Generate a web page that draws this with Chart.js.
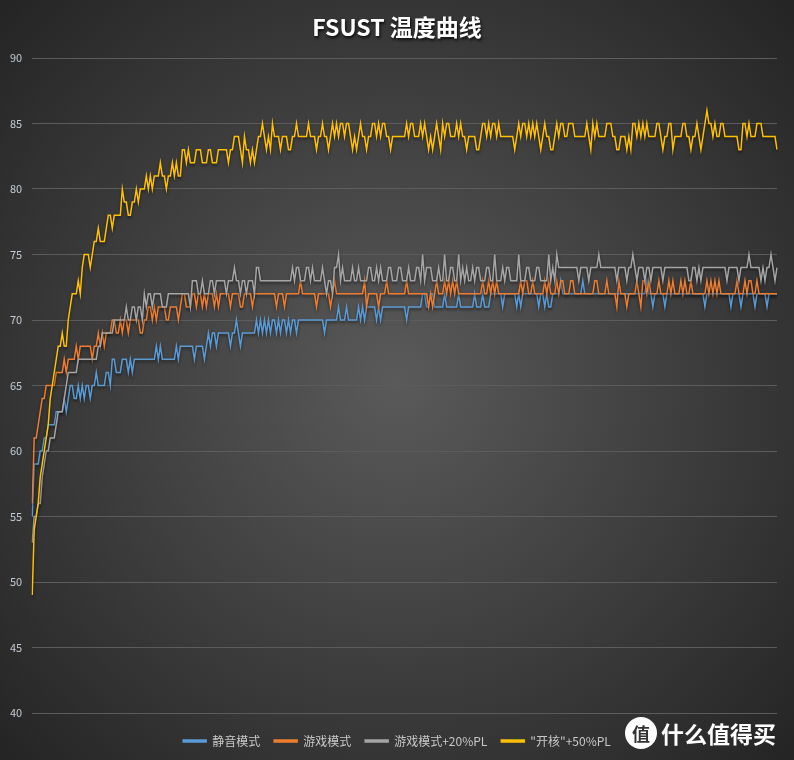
<!DOCTYPE html>
<html>
<head>
<meta charset="utf-8">
<script src="https://cdn.jsdelivr.net/npm/chart.js@4.4.1/dist/chart.umd.min.js"></script>
<style>
  html, body { margin: 0; padding: 0; background: #2a2a2a; }
  canvas { display: block; }
</style>
</head>
<body>
<canvas id="tempChart" width="794" height="760"></canvas>
<script>
// temperatures, one sample every ~2px
const quietTemps = [
  55,59,59,59,60,60,61,61,62,62, 62,62,63,63,63,63,64,63,64,65,
  65,64,64,65,64,65,64,65,65,64, 65,65,66,65,65,65,65,66,66,65,
  67,67,66,66,66,67,67,67,66,67, 66,67,67,67,67,67,67,67,67,67,
  67,67,68,67,68,67,67,67,67,67, 67,67,68,67,68,68,68,68,68,68,
  68,67,68,68,68,68,67,68,69,68, 69,69,68,69,69,69,69,69,69,68,
  69,69,70,69,68,69,69,69,69,69, 69,69,70,69,70,69,70,69,70,69,
  70,70,69,70,69,70,70,69,70,69, 70,70,69,70,70,70,70,70,70,70,
  70,70,70,70,70,70,69,70,70,70, 70,70,70,71,70,70,70,71,70,70,
  70,70,70,71,70,71,70,71,71,71, 71,71,70,71,70,71,71,71,71,71,
  71,71,71,71,71,71,71,70,71,71, 71,71,71,71,71,72,72,71,71,72,
  72,71,71,71,71,71,72,71,71,71, 71,71,71,72,71,71,71,71,71,71,
  71,72,71,71,71,72,71,71,71,72, 72,72,72,72,72,71,72,72,72,72,
  72,72,71,72,71,72,72,72,72,72, 72,72,72,71,72,72,71,72,71,71,
  72,72,72,72,73,72,72,72,72,72, 72,72,72,72,72,73,72,72,72,72,
  72,72,72,72,72,72,72,72,72,72, 72,72,72,72,72,72,72,72,72,72,
  72,72,72,72,72,72,72,73,72,72, 71,72,72,72,72,72,71,72,72,72,
  72,72,72,72,72,72,72,72,72,72, 72,72,72,72,72,72,71,72,72,72,
  72,72,72,72,72,72,72,72,72,71, 72,72,72,72,71,72,72,72,72,72,
  72,71,72,72,72,72,72,71,72,72, 72,72,72
];
const gameTemps = [
  56,61,61,62,63,64,64,65,65,65, 65,65,66,66,66,66,67,66,67,67,
  67,67,68,67,68,68,68,68,68,68, 67,68,68,69,68,69,68,69,69,69,
  70,70,69,69,70,69,70,70,69,70, 70,70,70,70,69,69,70,70,71,71,
  70,71,70,71,71,71,71,70,70,71, 71,71,71,70,71,72,72,71,71,71,
  72,72,71,72,72,71,72,71,72,72, 72,71,72,71,72,72,72,72,72,71,
  72,72,72,72,71,71,72,72,72,72, 71,72,72,72,72,72,72,72,72,72,
  72,72,71,72,72,72,71,72,72,72, 72,72,72,72,73,72,72,72,72,72,
  72,72,71,72,72,72,72,72,72,71, 72,73,72,72,72,72,72,72,72,72,
  72,72,72,72,72,72,73,71,72,72, 72,72,72,71,72,72,72,73,72,72,
  72,72,72,72,72,72,72,73,72,72, 72,72,72,72,72,72,72,72,71,72,
  71,72,73,72,72,72,73,72,73,72, 73,72,73,72,72,72,72,72,72,72,
  72,72,72,72,72,73,72,72,73,72, 73,72,73,72,72,72,72,72,72,72,
  72,72,72,72,73,72,73,73,72,72, 73,72,72,72,72,72,73,72,73,72,
  72,72,73,72,73,73,72,72,72,73, 73,72,72,72,72,72,72,72,72,72,
  72,73,73,72,72,72,72,73,72,72, 72,72,71,73,72,72,72,71,72,72,
  72,72,73,72,71,73,73,72,73,72, 72,72,72,73,72,72,72,72,73,72,
  73,72,72,72,73,72,73,72,72,73, 72,72,72,72,72,72,72,73,72,73,
  72,73,72,73,72,72,72,72,72,72, 72,72,73,72,72,72,73,72,73,73,
  72,72,73,72,72,72,72,72,72,72, 72,72,72
];
const game20Temps = [
  53,55,55,56,56,58,59,60,60,61, 61,61,62,63,63,63,64,65,66,66,
  66,66,66,67,67,67,67,67,67,67, 67,67,67,68,68,69,69,69,69,69,
  69,70,70,70,70,70,70,71,70,70, 71,71,70,71,71,70,72,71,72,72,
  71,72,72,72,72,71,71,71,72,72, 72,72,72,72,72,72,72,72,72,71,
  73,73,73,72,72,73,72,72,72,73, 73,72,73,73,73,73,73,72,73,73,
  73,74,73,73,72,73,73,72,73,73, 73,72,74,74,73,73,73,73,73,73,
  73,73,73,73,73,73,73,73,73,73, 74,73,74,74,73,73,73,74,74,73,
  74,73,73,73,73,74,73,72,73,73, 72,74,74,75,73,74,73,73,73,73,
  74,73,73,74,73,73,73,73,74,74, 73,73,74,73,74,73,73,73,74,74,
  73,73,73,74,74,73,73,73,74,73, 73,73,74,74,73,75,73,74,74,74,
  73,73,73,74,73,73,75,73,73,74, 74,73,73,75,73,74,73,74,73,73,
  74,73,74,74,73,73,73,74,74,73, 73,75,73,73,73,74,73,74,74,73,
  73,73,73,75,73,73,73,74,74,73, 73,73,74,74,73,73,73,73,75,73,
  74,73,75,74,74,74,74,74,74,74, 74,74,74,73,74,74,74,74,73,74,
  74,74,74,75,74,74,74,74,74,74, 74,74,73,74,74,74,74,73,74,74,
  75,74,73,74,74,74,73,74,74,73, 74,74,74,74,74,73,74,74,74,74,
  74,74,74,74,74,74,74,74,73,73, 74,74,73,74,73,74,74,74,74,74,
  74,74,74,74,74,74,74,73,74,74, 74,74,74,73,74,74,74,74,75,74,
  74,74,74,74,73,74,73,74,74,75, 74,73,74
];
const open50Temps = [
  49,54,55,56,58,59,60,61,62,64, 65,66,67,68,68,69,68,68,70,71,
  72,72,72,73,72,74,75,75,75,74, 75,76,76,77,76,76,76,77,78,78,
  77,78,78,78,78,80,79,79,78,78, 79,79,80,79,80,80,80,81,80,81,
  80,81,81,81,82,81,81,80,81,81, 82,81,82,81,81,83,83,82,83,82,
  82,82,83,83,83,82,82,82,83,83, 82,82,82,83,83,83,83,83,82,83,
  83,84,84,84,83,82,84,83,83,82, 83,82,83,84,84,85,84,83,84,83,
  85,84,84,84,83,84,84,84,83,83, 84,84,85,84,84,84,84,84,85,84,
  84,84,83,84,84,85,84,84,83,84, 85,84,85,84,85,85,84,85,85,84,
  83,84,83,84,85,84,84,83,84,84, 85,85,84,85,84,85,85,84,84,83,
  84,84,84,84,84,84,84,85,84,85, 85,84,84,84,85,84,85,84,83,84,
  83,84,85,84,83,85,84,85,85,84, 84,84,85,84,85,84,84,83,84,84,
  84,84,83,83,84,85,85,84,85,84, 85,85,84,85,84,84,84,84,84,84,
  84,83,84,85,84,85,85,84,85,84, 85,84,85,84,83,84,85,84,84,83,
  83,84,85,84,85,85,84,84,85,85, 85,84,84,84,84,84,84,85,84,83,
  85,84,85,84,84,84,84,85,85,85, 84,84,83,83,84,84,84,83,84,83,
  85,85,84,85,84,85,84,85,84,84, 84,84,85,85,84,83,84,84,85,85,
  83,84,84,84,84,85,85,84,84,83, 84,84,85,84,83,84,85,86,85,85,
  84,85,84,84,85,85,84,84,84,84, 84,84,84,83,83,85,85,84,85,84,
  84,84,85,85,85,84,84,84,84,84, 84,84,83
];
const seriesNames = ['静音模式', '游戏模式', '游戏模式+20%PL', '"开核"+50%PL'];
const seriesColors = ['#5b9bd5', '#ed7d31', '#a5a5a5', '#ffc000'];
const yTicks = [40, 45, 50, 55, 60, 65, 70, 75, 80, 85, 90];
const sampleLabels = open50Temps.map((_, i) => i + 1);
const chartTitle = 'FSUST 温度曲线';

const fontFamily = "'Noto Sans CJK SC', 'Open Sans', sans-serif";

const bgPlugin = {
  id: 'bg',
  beforeDraw(chart) {
    const c = chart.ctx;
    const w = chart.width, h = chart.height;
    c.save();
    const g = c.createRadialGradient(w * 0.5, h * 0.5, 0, w * 0.5, h * 0.5, 560);
    g.addColorStop(0, '#5a5a5a');
    g.addColorStop(1, '#232323');
    c.fillStyle = g;
    c.fillRect(0, 0, w, h);
    c.restore();
  },
  beforeDatasetsDraw(chart) {
    const c = chart.ctx;
    c.save();
    c.shadowColor = 'rgba(0,0,0,0.55)';
    c.shadowBlur = 3;
    c.shadowOffsetY = 2;
  },
  afterDatasetsDraw(chart) {
    chart.ctx.restore();
  },
  afterDraw(chart) {
    const c = chart.ctx;
    c.save();
    // title with a soft drop shadow
    c.shadowColor = 'rgba(0,0,0,0.8)';
    c.shadowBlur = 3;
    c.shadowOffsetX = 1;
    c.shadowOffsetY = 2;
    c.fillStyle = '#ffffff';
    c.font = 'bold 23px ' + fontFamily;
    c.textAlign = 'center';
    c.textBaseline = 'middle';
    c.fillText(chartTitle, chart.width / 2, 27);
    c.restore();

    // site watermark, bottom right
    c.save();
    c.fillStyle = '#ffffff';
    c.beginPath();
    c.arc(641, 733, 16, 0, Math.PI * 2);
    c.fill();
    c.fillStyle = '#333333';
    c.font = 'bold 18px ' + fontFamily;
    c.textAlign = 'center';
    c.textBaseline = 'middle';
    c.fillText('值', 641, 734);
    c.fillStyle = '#ffffff';
    c.font = 'bold 23px ' + fontFamily;
    c.textAlign = 'left';
    c.fillText('什么值得买', 661, 734);
    c.restore();
  }
};

const makeSet = (idx, data) => ({
  label: seriesNames[idx],
  data: data,
  borderColor: seriesColors[idx],
  backgroundColor: seriesColors[idx],
  borderWidth: 1.5,
  pointRadius: 0,
  tension: 0
});

new Chart(document.getElementById('tempChart').getContext('2d'), {
  type: 'line',
  data: {
    labels: sampleLabels,
    // last series first so it is drawn on top; legend is reversed back
    datasets: [
      makeSet(3, open50Temps),
      makeSet(2, game20Temps),
      makeSet(1, gameTemps),
      makeSet(0, quietTemps)
    ]
  },
  options: {
    responsive: false,
    animation: false,
    layout: { padding: { left: 0, right: 0, top: 58, bottom: 3 } },
    plugins: {
      title: { display: false },
      legend: {
        position: 'bottom',
        reverse: true,
        maxHeight: 36,
        labels: {
          color: '#c8c8c8',
          font: { size: 12, family: fontFamily },
          boxWidth: 23,
          boxHeight: 2,
          padding: 14
        }
      },
      tooltip: { enabled: false }
    },
    scales: {
      x: {
        display: true,
        grid: { display: false },
        border: { display: false },
        ticks: { display: false },
        afterFit: (scale) => { scale.height = 8; }
      },
      y: {
        min: 40,
        max: 90,
        afterBuildTicks: (scale) => { scale.ticks = yTicks.map(v => ({ value: v })); },
        grid: { color: '#5c5c5c', drawTicks: false },
        border: { display: false },
        ticks: {
          color: '#c3cbd4',
          padding: 10,
          font: { size: 11, family: fontFamily }
        }
      },
      // empty right-hand strip so the plot stops short of the edge
      yRight: {
        position: 'right',
        display: true,
        grid: { display: false },
        border: { display: false },
        ticks: { display: false },
        afterFit: (scale) => { scale.width = 17; }
      }
    }
  },
  plugins: [bgPlugin]
});
</script>
</body>
</html>
